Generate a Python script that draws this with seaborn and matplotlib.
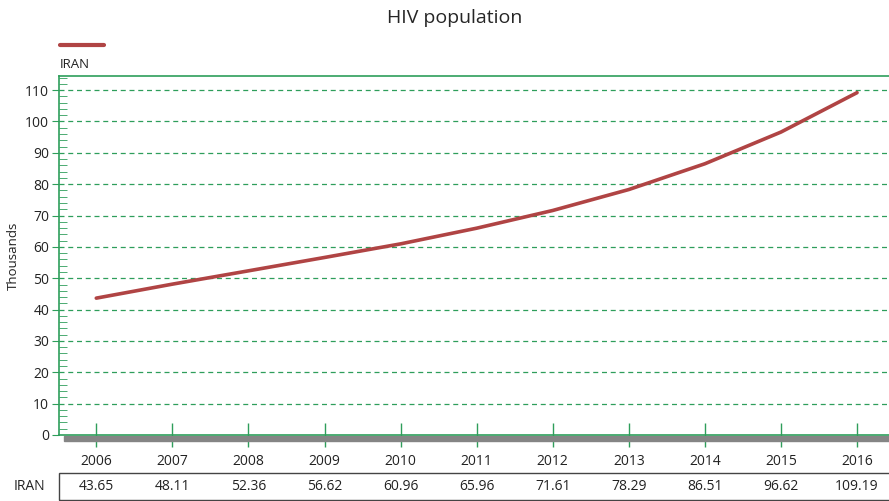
import seaborn as sns
import matplotlib.pyplot as plt
import pandas as pd
from matplotlib.lines import Line2D
from matplotlib.patches import Rectangle
from matplotlib.ticker import MultipleLocator

years = [2006, 2007, 2008, 2009, 2010, 2011, 2012, 2013, 2014, 2015, 2016]
iran = [43.65, 48.11, 52.36, 56.62, 60.96, 65.96, 71.61, 78.29, 86.51, 96.62, 109.19]
series_name = "IRAN"

df = pd.DataFrame({'year': years, 'value': iran})

sns.set_style('white')
plt.rcParams['font.family'] = ['Open Sans', 'DejaVu Sans']

green = '#2e9e5b'
red = '#b04444'

fig = plt.figure(figsize=(8.89, 5.01), dpi=100)
ax = fig.add_axes([59/889, 66/501, 1 - 59/889, (435-76)/501])

sns.lineplot(data=df, x='year', y='value', ax=ax, color=red, linewidth=2.6)

ax.set_xlim(2005.51, 2016.42)
ax.set_ylim(0, 114.5)
ax.yaxis.set_major_locator(MultipleLocator(10))
ax.yaxis.set_minor_locator(MultipleLocator(2))
ax.set_xticks(years)
ax.set_xticklabels([str(y) for y in years])

for v in range(10, 111, 10):
    ax.axhline(v, color=green, linestyle=(0, (4, 3)), linewidth=0.9, zorder=0)

for s in ['left', 'top', 'bottom']:
    ax.spines[s].set_color(green)
    ax.spines[s].set_linewidth(1.2)
ax.spines['right'].set_visible(False)

ax.tick_params(axis='y', which='major', direction='out', length=5, color=green,
               labelsize=10, labelcolor='#222222', left=True, pad=2)
ax.tick_params(axis='y', which='minor', direction='in', length=6, color=green, left=True)
ax.tick_params(axis='x', direction='inout', length=17, width=1, color=green,
               labelsize=10, labelcolor='#222222', bottom=True, pad=5)

ax.set_xlabel('')
ax.set_ylabel('Thousands', fontsize=9.5, color='#222222', labelpad=4)

# grey band under the x axis
ax.add_patch(Rectangle((5/830, -0.017), 1, 0.015, transform=ax.transAxes,
                       color='#858585', clip_on=False, zorder=1))

# legend
fig.add_artist(Line2D([60/889, 104/889], [1 - 45/501, 1 - 45/501], color=red, linewidth=3))
fig.text(60/889, 1 - 65/501, series_name, fontsize=9.5, color='#222222', va='center')

fig.suptitle('HIV population', x=455/889, y=1 - 18/501, fontsize=14, va='center')

# data table
fig.add_artist(Rectangle((59/889, 1/501), 1, 27/501, transform=fig.transFigure,
                         fill=False, edgecolor='#444444', linewidth=1))
fig.text(45/889, 1 - 487/501, series_name, fontsize=10, color='#222222', ha='right', va='center')
for yr, v in zip(years, iran):
    x_fig = fig.transFigure.inverted().transform(ax.transData.transform((yr, 0)))[0]
    fig.text(x_fig, 1 - 487/501, f'{v:.2f}', fontsize=10, color='#222222', ha='center', va='center')

plt.savefig('out.png', dpi=100)
